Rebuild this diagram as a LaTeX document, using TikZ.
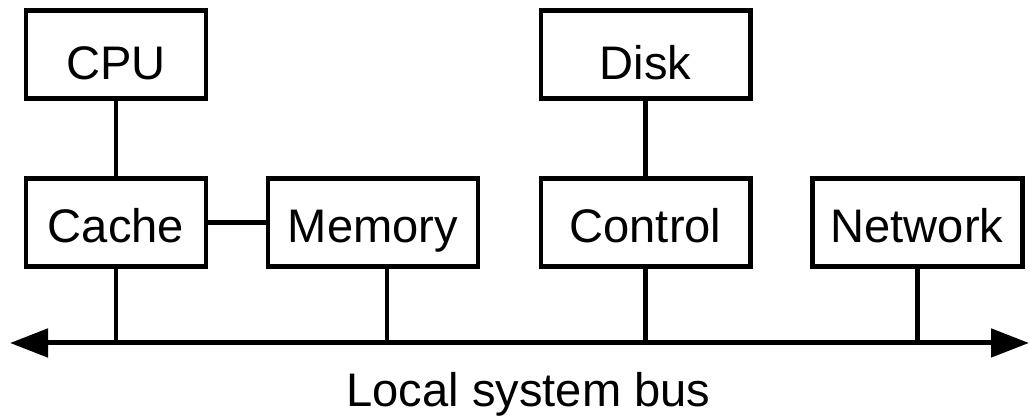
\documentclass[tikz,border=0pt]{standalone}
\usepackage{fontspec}
\setmainfont{Liberation Sans}
\usepackage{tikz}
\usetikzlibrary{positioning,arrows.meta,calc}
\tikzset{
  box/.style={draw,line width=1.42pt,minimum height=0.88cm,inner sep=0pt,
    font=\fontsize{13.4}{16}\selectfont,text height=0.40cm,text depth=0cm},
  upper/.style={text height=0.50cm},
  wire/.style={line width=1.42pt},
  bus/.style={wire,{Triangle[length=0.38cm,width=0.28cm]}-{Triangle[length=0.38cm,width=0.28cm]}},
}

\begin{document}
\begin{tikzpicture}
\useasboundingbox (0,0) rectangle (10.3,4.2);
% top row
\node[box,upper,minimum width=1.80cm] (cpu) at (1.16,3.655) {CPU};
\node[box,upper,minimum width=2.09cm] (disk) at (6.455,3.655) {Disk};
% second row, on the bus
\node[box,minimum width=1.80cm] (cache) at (1.16,1.975) {Cache};
\node[box,minimum width=2.10cm] (mem) at (3.73,1.975) {Memory};
\node[box,minimum width=2.09cm] (ctl) at (6.455,1.975) {Control};
\node[box,minimum width=2.10cm] (net) at (9.17,1.975) {Network};
% the bus
\coordinate (busL) at (0.10,0.77);
\coordinate (busR) at (10.29,0.77);
\coordinate (tapM) at (3.87,0.77);
\draw[bus] (busL) -- (busR);
\node[font=\fontsize{13.4}{16}\selectfont,anchor=base,inner sep=0pt] (lbl) at (5.285,0.13) {Local system bus};
\draw[wire] (cpu.south) -- (cache.north);
\draw[wire] (disk.south) -- (ctl.north);
\draw[wire] (cache.east) -- (mem.west);
\foreach \n in {cache,ctl,net}{\draw[wire] (\n.south) -- (\n.south |- busL);}
\draw[wire] (tapM |- mem.south) -- (tapM);
\end{tikzpicture}
\end{document}
